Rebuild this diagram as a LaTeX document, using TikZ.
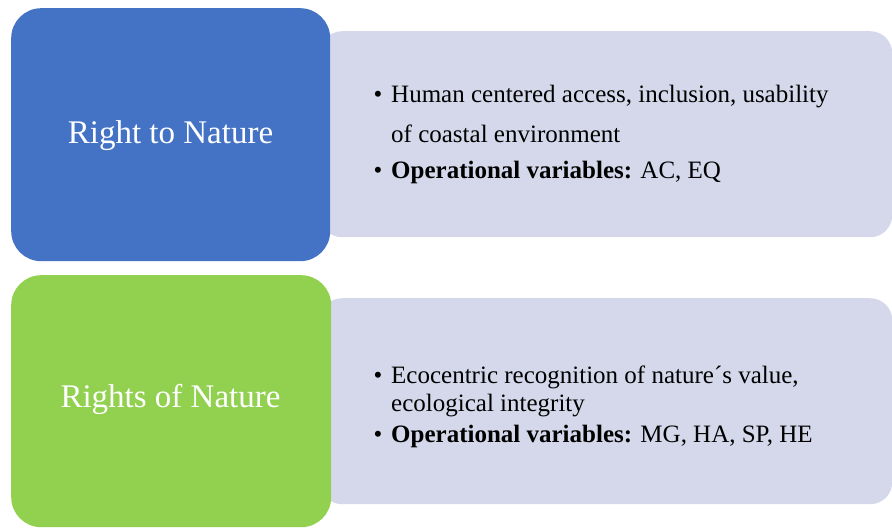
\documentclass[tikz,border=0pt]{standalone}
\usepackage{fontspec}
\setmainfont{Liberation Serif}
\definecolor{natblue}{HTML}{4472C4}
\definecolor{natgreen}{HTML}{92D050}
\definecolor{panelfill}{HTML}{D4D8EA}
\begin{document}
\begin{tikzpicture}[x=1pt,y=-1pt,
  headbox/.style={rounded corners=30pt, inner sep=0pt, anchor=north west},
  panelbox/.style={fill=panelfill, rounded corners=22pt, inner sep=0pt, anchor=north west},
  headtext/.style={text=white, font=\fontsize{33}{40}\selectfont, inner sep=0pt, anchor=base},
  itemtext/.style={font=\fontsize{25}{30}\selectfont, inner sep=0pt, anchor=base west},
  bulletmark/.style={font=\fontsize{25}{30}\selectfont, inner sep=0pt, anchor=base}]
\useasboundingbox (0,0) rectangle (892,529);
\fill[white] (0,0) rectangle (892,529);

% description panels (behind the coloured heading boxes)
\node[panelbox, minimum width=572pt, minimum height=206pt] (panelA) at (320,31) {};
\node[panelbox, minimum width=572pt, minimum height=206pt] (panelB) at (320,298) {};

% heading boxes
\node[headbox, fill=natblue, minimum width=319pt, minimum height=253pt] (headA) at (11,8) {};
\node[headbox, fill=natgreen, minimum width=320pt, minimum height=252pt] (headB) at (11,275) {};

\node[headtext] (titleA) at (170.5,144) {Right to Nature};
\node[headtext] (titleB) at (170.5,407) {Rights of Nature};

% first panel items
\node[bulletmark] (bA1) at (378,103) {\textbullet};
\node[itemtext] (tA1) at (391,103) {Human centered access, inclusion, usability};
\node[itemtext] (tA2) at (391,143) {of coastal environment};
\node[bulletmark] (bA2) at (378,179) {\textbullet};
\node[itemtext] (tA3) at (391,179) {\textbf{Operational variables:} AC, EQ};

% second panel items
\node[bulletmark] (bB1) at (378,384) {\textbullet};
\node[itemtext] (tB1) at (391,384) {Ecocentric recognition of nature´s value,};
\node[itemtext] (tB2) at (391,411) {ecological integrity};
\node[bulletmark] (bB2) at (378,442) {\textbullet};
\node[itemtext] (tB3) at (391,442) {\textbf{Operational variables:} MG, HA, SP, HE};
\end{tikzpicture}
\end{document}
